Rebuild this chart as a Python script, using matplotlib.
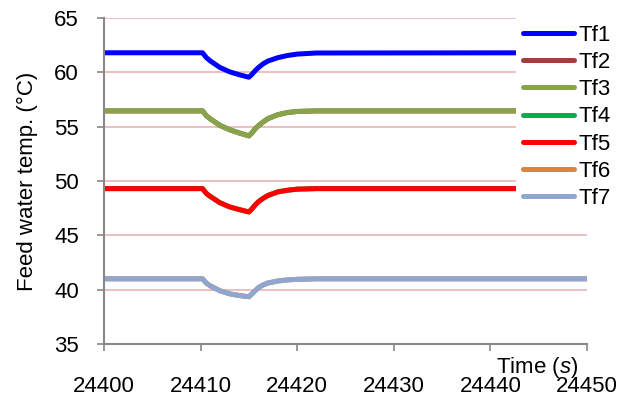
import numpy as np
import matplotlib.pyplot as plt

plt.rcParams['font.family'] = ['Liberation Sans', 'DejaVu Sans']
plt.rcParams['mathtext.fontset'] = 'custom'
plt.rcParams['mathtext.it'] = 'Liberation Sans:italic'
plt.rcParams['mathtext.rm'] = 'Liberation Sans'

# Время (с) и температуры питательной воды
time = [24400, 24410.2, 24410.6, 24411, 24412, 24413, 24414, 24415, 24415.3, 24415.7,
        24416, 24416.5, 24417, 24418, 24419, 24420, 24422, 24450]
tf1 = [61.8, 61.8, 61.35, 61.05, 60.45, 60.05, 59.78, 59.55, 59.8, 60.2,
       60.45, 60.8, 61.05, 61.35, 61.55, 61.68, 61.78, 61.8]
tf2 = [56.45, 56.45, 56.0, 55.72, 55.12, 54.72, 54.42, 54.15, 54.42, 54.85,
       55.1, 55.45, 55.75, 56.1, 56.3, 56.4, 56.45, 56.45]
tf3 = [56.45, 56.45, 56.0, 55.72, 55.12, 54.72, 54.42, 54.15, 54.42, 54.85,
       55.1, 55.45, 55.75, 56.1, 56.3, 56.4, 56.45, 56.45]
tf4 = [49.3, 49.3, 48.85, 48.58, 48.0, 47.62, 47.37, 47.15, 47.42, 47.85,
       48.1, 48.42, 48.68, 49.0, 49.15, 49.25, 49.3, 49.3]
tf5 = [49.3, 49.3, 48.85, 48.58, 48.0, 47.62, 47.37, 47.15, 47.42, 47.85,
       48.1, 48.42, 48.68, 49.0, 49.15, 49.25, 49.3, 49.3]
tf6 = [41.0, 41.0, 40.6, 40.35, 39.9, 39.62, 39.46, 39.35, 39.6, 39.95,
       40.2, 40.45, 40.62, 40.8, 40.9, 40.95, 41.0, 41.0]
tf7 = [41.0, 41.0, 40.6, 40.35, 39.9, 39.62, 39.46, 39.35, 39.6, 39.95,
       40.2, 40.45, 40.62, 40.8, 40.9, 40.95, 41.0, 41.0]

series = [tf1, tf2, tf3, tf4, tf5, tf6, tf7]
labels = ['Tf1', 'Tf2', 'Tf3', 'Tf4', 'Tf5', 'Tf6', 'Tf7']
colors = ['#0000FF', '#A0403E', '#86A44A', '#00B050', '#FF0000', '#E0823A', '#8EA6D0']

fig = plt.figure(figsize=(6.22, 3.96), dpi=100)
ax = fig.add_axes([104 / 622, 1 - 344 / 396, 483 / 622, 326 / 396])

for y, lab, c in zip(series, labels, colors):
    ax.plot(time, y, color=c, lw=3.6, label=lab, solid_capstyle='butt',
            solid_joinstyle='round')

ax.set_xlim(24400, 24450)
ax.set_ylim(35, 65)
ax.set_xticks(np.arange(24400, 24451, 10))
ax.set_yticks(np.arange(35, 66, 5))
ax.yaxis.grid(True, color='#E8B4B4', lw=1.2)
ax.set_axisbelow(True)

for s in ['top', 'right']:
    ax.spines[s].set_visible(False)
for s in ['left', 'bottom']:
    ax.spines[s].set_color('#888888')
    ax.spines[s].set_linewidth(1.5)

ax.tick_params(axis='both', colors='#888888', labelcolor='black', labelsize=16,
               length=5, width=1.2, direction='out')
ax.tick_params(axis='x', pad=18)
ax.tick_params(axis='y', pad=13)

ax.set_ylabel('Feed water temp. (°C)', fontsize=16, labelpad=12)
fig.text(537 / 622, 1 - 367 / 396, 'Time ($s$)', fontsize=16, ha='center', va='center')

leg = ax.legend(loc='upper left', bbox_to_anchor=(516 / 622, 1 - 18 / 396),
                bbox_transform=fig.transFigure, frameon=True, fancybox=False,
                edgecolor='none', facecolor='white', framealpha=1, fontsize=16,
                handlelength=2.3, handletextpad=0.2, labelspacing=0.28,
                borderpad=0.3, borderaxespad=0)
for h in leg.get_lines():
    h.set_solid_capstyle('round')

fig.savefig('out.png', dpi=100)
